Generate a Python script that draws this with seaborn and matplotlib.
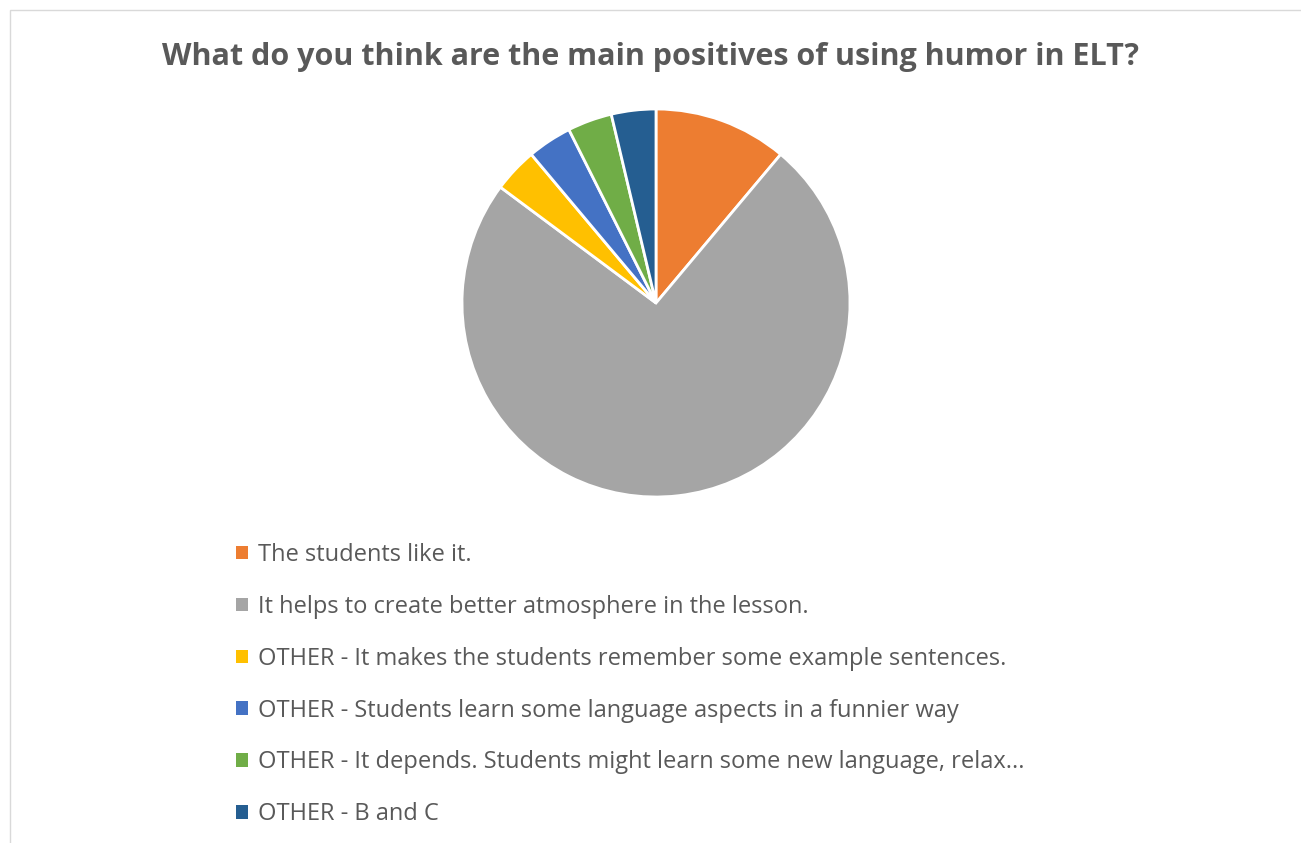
import matplotlib
matplotlib.use("Agg")
import matplotlib.pyplot as plt
from matplotlib.patches import Rectangle
import seaborn as sns

# Survey responses
categories = [
    "The students like it.",
    "It helps to create better atmosphere in the lesson.",
    "OTHER - It makes the students remember some example sentences.",
    "OTHER - Students learn some language aspects in a funnier way",
    "OTHER - It depends. Students might learn some new language, relax...",
    "OTHER - B and C",
]
counts = [3, 20, 1, 1, 1, 1]
colors = ["#ED7D31", "#A5A5A5", "#FFC000", "#4472C4", "#70AD47", "#255E91"]
title = "What do you think are the main positives of using humor in ELT?"

sns.set_theme(style="white")
plt.rcParams["font.family"] = ["Open Sans", "DejaVu Sans"]

W, H = 1301, 843
fig = plt.figure(figsize=(W / 100, H / 100), dpi=100)
fig.patch.set_facecolor("white")

# chart frame
fig.add_artist(Rectangle((9.5 / W, -0.01), 1.02, 1 - 9.5 / H + 0.01,
                         transform=fig.transFigure, fill=False,
                         edgecolor="#D9D9D9", linewidth=1.0))

cx, cy, r = 656, 303, 194
ax = fig.add_axes([(cx - r) / W, (H - cy - r) / H, 2 * r / W, 2 * r / H])
wedges, _ = ax.pie(counts, colors=colors, startangle=90, counterclock=False,
                   radius=1.0,
                   wedgeprops=dict(edgecolor="white", linewidth=2.0))
ax.set_xlim(-1.0, 1.0)
ax.set_ylim(-1.0, 1.0)
ax.set_aspect("equal")
ax.axis("off")

fig.text(0.5, 1 - 57 / H, title, ha="center", va="center",
         fontsize=22, fontweight="bold", color="#595959")

leg = fig.legend(wedges, categories, loc="upper left",
                 bbox_to_anchor=(236 / W, 1 - 543 / H),
                 frameon=False, fontsize=17, labelcolor="#595959",
                 handlelength=0.5, handleheight=0.5, handletextpad=0.45,
                 labelspacing=1.18, borderpad=0, borderaxespad=0)
for h in leg.legend_handles:
    h.set_edgecolor("none")

fig.savefig("out.png", dpi=100, facecolor="white")
